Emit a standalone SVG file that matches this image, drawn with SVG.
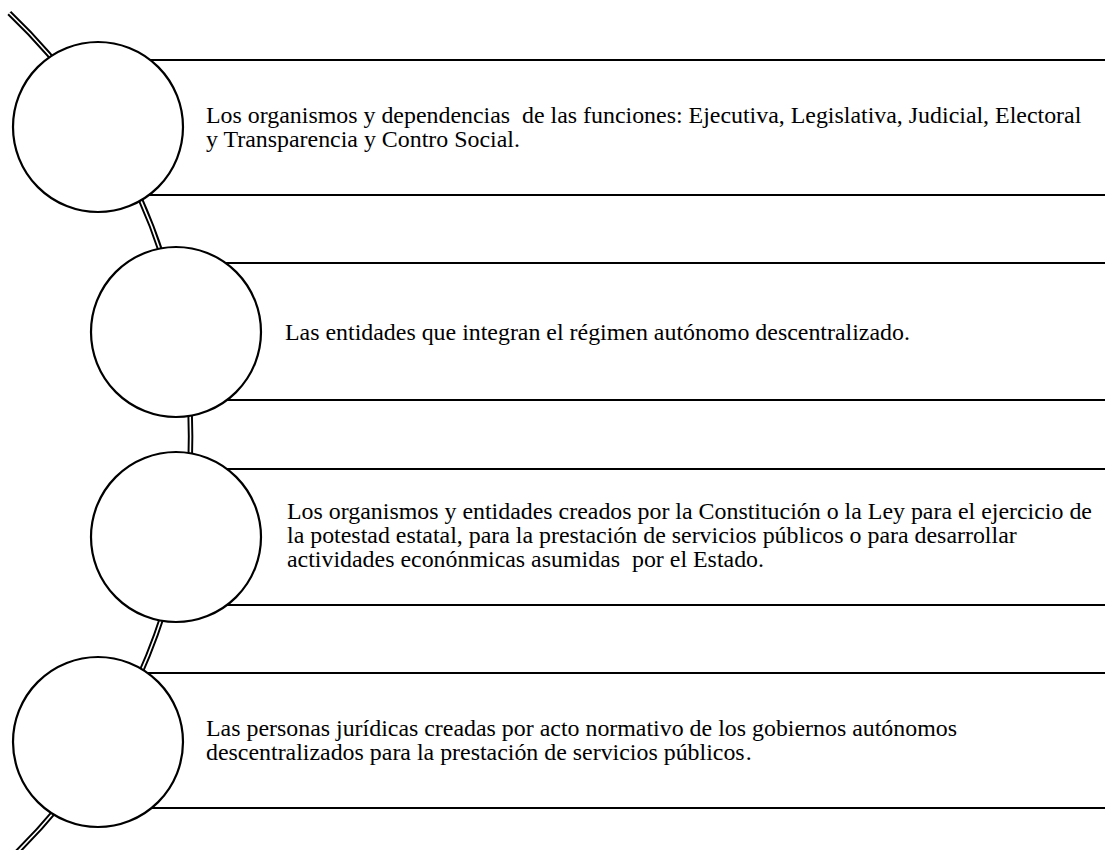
<svg xmlns="http://www.w3.org/2000/svg" width="1105" height="850" viewBox="0 0 1105 850">
<style>
.bar{stroke:#000;stroke-width:2.2;fill:none}
.ring{fill:#fff;stroke:#000;stroke-width:2.2}
.t{font-family:"Liberation Serif","Times New Roman",serif;font-size:23.9px;fill:#000;white-space:pre}
.spineO{fill:none;stroke:#000;stroke-width:5.5}
.spineI{fill:none;stroke:#fff;stroke-width:1.6}
</style>
<rect width="1105" height="850" fill="#fff"/>
<g id="connectors">
<path class="spineO" d="M 9.3 13 A 585 585 0 0 1 9 860"/>
<path class="spineI" d="M 9.3 13 A 585 585 0 0 1 9 860"/>
</g>
<g id="node1">
<line class="bar" x1="98" y1="60" x2="1105" y2="60"/>
<line class="bar" x1="98" y1="195" x2="1105" y2="195"/>
<circle class="ring" cx="98" cy="127" r="85"/>
<text class="t" x="206" y="123">Los organismos y dependencias  de las funciones: Ejecutiva, Legislativa, Judicial, Electoral</text>
<text class="t" x="206" y="147">y Transparencia y Contro Social.</text>
</g>
<g id="node2">
<line class="bar" x1="176" y1="263" x2="1105" y2="263"/>
<line class="bar" x1="176" y1="400" x2="1105" y2="400"/>
<circle class="ring" cx="176" cy="332" r="85"/>
<text class="t" x="285" y="340">Las entidades que integran el régimen autónomo descentralizado.</text>
</g>
<g id="node3">
<line class="bar" x1="176" y1="469" x2="1105" y2="469"/>
<line class="bar" x1="176" y1="605" x2="1105" y2="605"/>
<circle class="ring" cx="176" cy="537" r="85"/>
<text class="t" x="287" y="519">Los organismos y entidades creados por la Constitución o la Ley para el ejercicio de</text>
<text class="t" x="287" y="543">la potestad estatal, para la prestación de servicios públicos o para desarrollar</text>
<text class="t" x="287" y="567">actividades econónmicas asumidas  por el Estado.</text>
</g>
<g id="node4">
<line class="bar" x1="98" y1="673" x2="1105" y2="673"/>
<line class="bar" x1="98" y1="808" x2="1105" y2="808"/>
<circle class="ring" cx="98" cy="742" r="85"/>
<text class="t" x="206" y="736">Las personas jurídicas creadas por acto normativo de los gobiernos autónomos</text>
<text class="t" x="206" y="760">descentralizados para la prestación de servicios públicos<tspan dx="1">.</tspan></text>
</g>
</svg>
